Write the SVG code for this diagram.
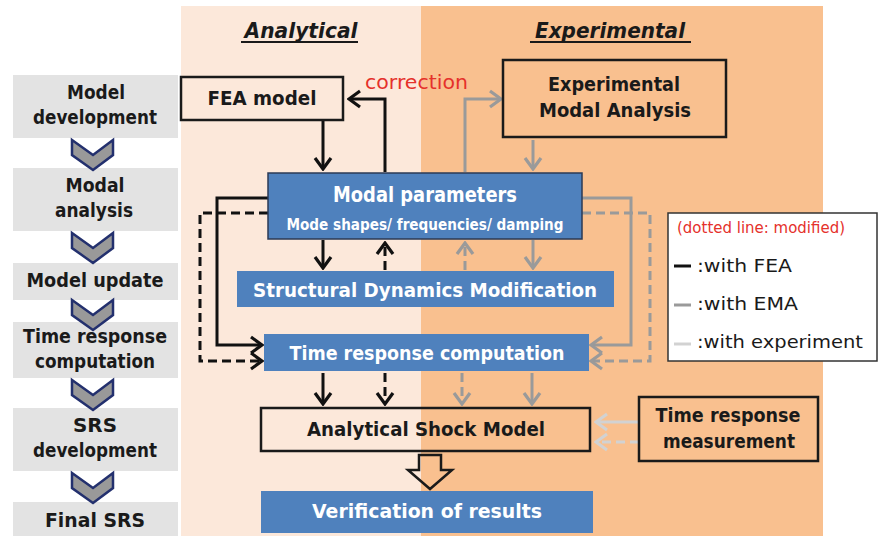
<svg xmlns="http://www.w3.org/2000/svg" width="878" height="536" viewBox="0 0 878 536">
<style>
.t{font-family:"DejaVu Sans","Liberation Sans",sans-serif;font-weight:bold;fill:#1a1a1a;text-anchor:middle}
.w{fill:#ffffff}
.r{font-family:"DejaVu Sans","Liberation Sans",sans-serif;fill:#1a1a1a}
.box{fill:none;stroke:#1a1a1a;stroke-width:2.5}
.blue{fill:#4F81BD}
.side{fill:#E3E3E3}
.chev{fill:#999999;stroke:#23306E;stroke-width:2.5;stroke-linejoin:miter}
.k{fill:none;stroke:#111;stroke-width:3}
.g{fill:none;stroke:#9A9A9A;stroke-width:3}
.l{fill:none;stroke:#D2D2D2;stroke-width:3}
.d{stroke-dasharray:9 5}
</style>
<defs>
<marker id="ak" viewBox="-14 -10 16 20" refX="0" refY="0" markerWidth="16" markerHeight="20" orient="auto" markerUnits="userSpaceOnUse"><path d="M-11,-8 L0,0 L-11,8" fill="none" stroke="#111" stroke-width="3.2"/></marker>
<marker id="ag" viewBox="-14 -10 16 20" refX="0" refY="0" markerWidth="16" markerHeight="20" orient="auto" markerUnits="userSpaceOnUse"><path d="M-11,-8 L0,0 L-11,8" fill="none" stroke="#9A9A9A" stroke-width="3.2"/></marker>
<marker id="al" viewBox="-14 -10 16 20" refX="0" refY="0" markerWidth="16" markerHeight="20" orient="auto" markerUnits="userSpaceOnUse"><path d="M-11,-8 L0,0 L-11,8" fill="none" stroke="#D2D2D2" stroke-width="3.2"/></marker>
</defs>
<rect width="878" height="536" fill="#ffffff"/>
<g id="panels">
<rect x="181" y="6" width="240" height="530" fill="#FCE8DA"/>
<rect x="421" y="6" width="402" height="530" fill="#F9C08F"/>
<text class="t" x="301" y="38" font-size="21" font-style="italic" textLength="113" lengthAdjust="spacingAndGlyphs">Analytical</text>
<line x1="241" y1="42" x2="358" y2="42" stroke="#1a1a1a" stroke-width="2"/>
<text class="t" x="610" y="38" font-size="21" font-style="italic" textLength="150" lengthAdjust="spacingAndGlyphs">Experimental</text>
<line x1="530" y1="42" x2="691" y2="42" stroke="#1a1a1a" stroke-width="2"/>
</g>
<g id="steps">
<rect class="side" x="13" y="75" width="165" height="63"/>
<text class="t" x="96" y="99" font-size="20" textLength="58" lengthAdjust="spacingAndGlyphs">Model</text>
<text class="t" x="95" y="124" font-size="20" textLength="124" lengthAdjust="spacingAndGlyphs">development</text>
<rect class="side" x="13" y="168" width="165" height="63"/>
<text class="t" x="95" y="192" font-size="20" textLength="59" lengthAdjust="spacingAndGlyphs">Modal</text>
<text class="t" x="94" y="217" font-size="20" textLength="78" lengthAdjust="spacingAndGlyphs">analysis</text>
<rect class="side" x="13" y="263" width="165" height="37"/>
<text class="t" x="95" y="287" font-size="20" textLength="137" lengthAdjust="spacingAndGlyphs">Model update</text>
<rect class="side" x="13" y="322" width="165" height="56"/>
<text class="t" x="95" y="343" font-size="20" textLength="144" lengthAdjust="spacingAndGlyphs">Time response</text>
<text class="t" x="95" y="368" font-size="20" textLength="120" lengthAdjust="spacingAndGlyphs">computation</text>
<rect class="side" x="13" y="408" width="165" height="63"/>
<text class="t" x="95" y="432" font-size="20" textLength="44" lengthAdjust="spacingAndGlyphs">SRS</text>
<text class="t" x="95" y="457" font-size="20" textLength="124" lengthAdjust="spacingAndGlyphs">development</text>
<rect class="side" x="13" y="502" width="165" height="34"/>
<text class="t" x="95" y="527" font-size="20" textLength="100" lengthAdjust="spacingAndGlyphs">Final SRS</text>
<path class="chev" d="M72,140 L93,155 L113,140 L113,155 L93,170 L72,155 Z"/>
<path class="chev" d="M72,233 L93,248 L113,233 L113,248 L93,263 L72,248 Z"/>
<path class="chev" d="M72,300 L93,315 L113,300 L113,315 L93,330 L72,315 Z"/>
<path class="chev" d="M72,380 L93,395 L113,380 L113,395 L93,410 L72,395 Z"/>
<path class="chev" d="M72,473 L93,488 L113,473 L113,488 L93,503 L72,488 Z"/>
</g>
<g id="connectors">
<path class="k" d="M323,121 V169" marker-end="url(#ak)"/>
<path class="k" d="M385,172 V99 H349" marker-end="url(#ak)"/>
<path class="g" d="M465,172 V99 H501" marker-end="url(#ag)"/>
<path class="g" d="M533,140 V169" marker-end="url(#ag)"/>
<path class="k" d="M323,240 V268" marker-end="url(#ak)"/>
<path class="k d" d="M385,270 V243" marker-end="url(#ak)"/>
<path class="g d" d="M465,270 V243" marker-end="url(#ag)"/>
<path class="g" d="M533,240 V268" marker-end="url(#ag)"/>
<path class="k" d="M268,198 H217 V345 H262" marker-end="url(#ak)"/>
<path class="k d" d="M268,213 H200 V361 H262" marker-end="url(#ak)"/>
<path class="g" d="M582,198 H631 V345 H591" marker-end="url(#ag)"/>
<path class="g d" d="M582,213 H650 V361 H591" marker-end="url(#ag)"/>
<path class="k" d="M323,373 V404" marker-end="url(#ak)"/>
<path class="k d" d="M385,373 V404" marker-end="url(#ak)"/>
<path class="g d" d="M462,373 V404" marker-end="url(#ag)"/>
<path class="g" d="M532,373 V404" marker-end="url(#ag)"/>
<path class="l" d="M639,422 H596" marker-end="url(#al)"/>
<path class="l d" d="M639,442 H596" marker-end="url(#al)"/>
<polygon points="419,455 441,455 441,470 452,470 430,489 408,470 419,470" fill="none" stroke="#1a1a1a" stroke-width="2.5"/>
</g>
<g id="fea">
<rect class="box" x="181" y="77" width="162" height="43"/>
<text class="t" x="262" y="105" font-size="20" textLength="109" lengthAdjust="spacingAndGlyphs">FEA model</text>
</g>
<g id="correction-label">
<text class="r" x="365" y="89" font-size="20" fill="#E5312B" style="fill:#E5312B" textLength="103" lengthAdjust="spacingAndGlyphs">correction</text>
</g>
<g id="ema">
<rect class="box" x="503" y="60" width="223" height="77"/>
<text class="t" x="614" y="91" font-size="20" textLength="132" lengthAdjust="spacingAndGlyphs">Experimental</text>
<text class="t" x="615" y="117" font-size="20" textLength="152" lengthAdjust="spacingAndGlyphs">Modal Analysis</text>
</g>
<g id="modal">
<rect class="blue" x="268" y="173" width="314" height="66" stroke="#2b3a55" stroke-width="1.5"/>
<text class="t w" x="425" y="202" font-size="21" textLength="184" lengthAdjust="spacingAndGlyphs">Modal parameters</text>
<text class="t w" x="425" y="230" font-size="15" textLength="277" lengthAdjust="spacingAndGlyphs">Mode shapes/ frequencies/ damping</text>
</g>
<g id="sdm">
<rect class="blue" x="237" y="271" width="377" height="36"/>
<text class="t w" x="425" y="297" font-size="20" textLength="344" lengthAdjust="spacingAndGlyphs">Structural Dynamics Modification</text>
</g>
<g id="trc">
<rect class="blue" x="264" y="334" width="325" height="37"/>
<text class="t w" x="427" y="360" font-size="20" textLength="275" lengthAdjust="spacingAndGlyphs">Time response computation</text>
</g>
<g id="asm">
<rect class="box" x="261" y="408" width="329" height="43"/>
<text class="t" x="426" y="436" font-size="20" textLength="238" lengthAdjust="spacingAndGlyphs">Analytical Shock Model</text>
</g>
<g id="verification">
<rect class="blue" x="261" y="491" width="332" height="42"/>
<text class="t w" x="427" y="518" font-size="20" textLength="230" lengthAdjust="spacingAndGlyphs">Verification of results</text>
</g>
<g id="trm">
<rect class="box" x="639" y="397" width="179" height="64"/>
<text class="t" x="728" y="422" font-size="20" textLength="145" lengthAdjust="spacingAndGlyphs">Time response</text>
<text class="t" x="729" y="448" font-size="20" textLength="132" lengthAdjust="spacingAndGlyphs">measurement</text>
</g>
<g id="legend">
<rect x="668" y="213" width="209" height="148" fill="#ffffff" stroke="#333" stroke-width="1.5"/>
<text class="r" x="677" y="233" font-size="15" style="fill:#E5312B" textLength="168" lengthAdjust="spacingAndGlyphs">(dotted line: modified)</text>
<line x1="674" y1="266" x2="691" y2="266" stroke="#111" stroke-width="3"/>
<text class="r" x="697" y="272" font-size="18" textLength="95" lengthAdjust="spacingAndGlyphs">:with FEA</text>
<line x1="674" y1="305" x2="691" y2="305" stroke="#9A9A9A" stroke-width="3"/>
<text class="r" x="697" y="310" font-size="18" textLength="101" lengthAdjust="spacingAndGlyphs">:with EMA</text>
<line x1="674" y1="344" x2="691" y2="344" stroke="#D2D2D2" stroke-width="3"/>
<text class="r" x="697" y="348" font-size="18" textLength="166" lengthAdjust="spacingAndGlyphs">:with experiment</text>
</g>
</svg>
